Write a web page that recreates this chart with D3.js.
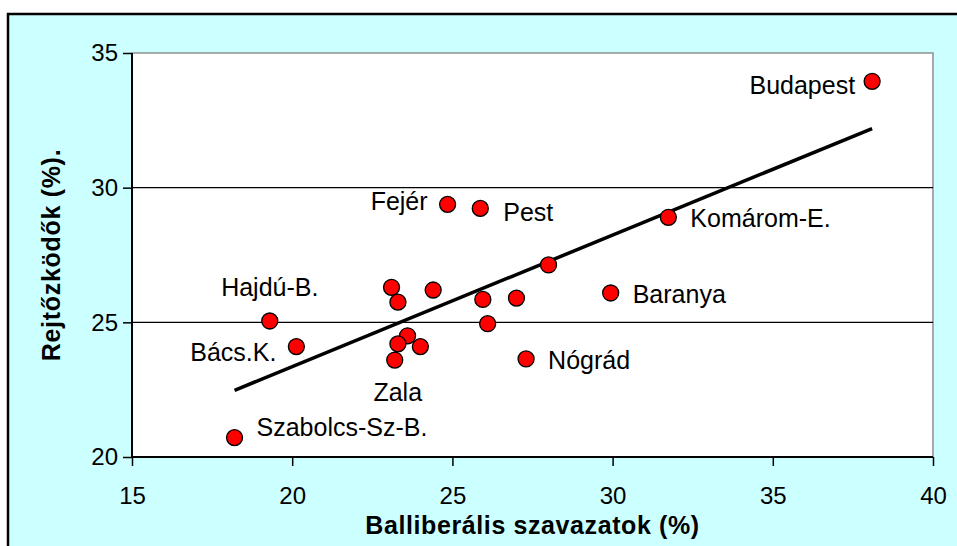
<!DOCTYPE html>
<html>
<head>
<meta charset="utf-8">
<script src="https://cdn.jsdelivr.net/npm/d3@7"></script>
<style>
  html, body { margin: 0; padding: 0; background: #fff; }
  svg { display: block; font-family: "Liberation Sans", Arial, sans-serif; }
</style>
</head>
<body>
<div class="app"></div>
<script>
// Data (megyék)
const names = ['Budapest', 'Fejér', 'Pest', 'Komárom-E.', '', 'Baranya', '', '', '', '', '',
  'Hajdú-B.', '', 'Bács.K.', '', '', '', 'Zala', 'Nógrád', 'Szabolcs-Sz-B.'];
const balliberalis = [38.1, 24.85, 25.87, 31.74, 28.0, 29.94, 23.1, 23.3, 24.4, 25.95, 27.0,
  19.3, 26.1, 20.13, 23.6, 23.3, 24.0, 23.2, 27.3, 18.2];
const rejtozkodok = [33.95, 29.38, 29.23, 28.9, 27.13, 26.09, 26.3, 25.75, 26.2, 25.85, 25.9,
  25.05, 24.95, 24.1, 24.5, 24.2, 24.1, 23.6, 23.64, 20.72];
const xTicks = [15, 20, 25, 30, 35, 40];
const yTicks = [20, 25, 30, 35];

// label placement relative to the marker (px)
const labelPos = {
  'Budapest': [-17, 13, 'end'],
  'Fejér': [-20, 6, 'end'],
  'Pest': [23, 13, 'start'],
  'Komárom-E.': [22, 10, 'start'],
  'Baranya': [22, 10, 'start'],
  'Hajdú-B.': [0, -25, 'middle'],
  'Bács.K.': [-20, 14, 'end'],
  'Zala': [3, 41, 'middle'],
  'Nógrád': [22, 10, 'start'],
  'Szabolcs-Sz-B.': [22, -2, 'start']
};

const width = 957, height = 546;
const margin = { left: 132, top: 53, right: 957 - 933, bottom: 546 - 457 };

const svg = d3.select('.app')
  .append('svg')
  .attr('width', width)
  .attr('height', height);

// outer frame
svg.append('rect')
  .attr('x', 8).attr('y', 14)
  .attr('width', 970).attr('height', 550)
  .attr('fill', '#ccffff')
  .attr('stroke', '#000')
  .attr('stroke-width', 2.5);

const x = d3.scaleLinear().domain([15, 40]).range([margin.left, width - margin.right]);
const y = d3.scaleLinear().domain([20, 35]).range([height - margin.bottom, margin.top]);

// plot area
svg.append('rect')
  .attr('x', x(15)).attr('y', y(35))
  .attr('width', x(40) - x(15)).attr('height', y(20) - y(35))
  .attr('fill', '#fff')
  .attr('stroke', '#808080')
  .attr('stroke-width', 1.3);

// gridlines
svg.append('g')
  .selectAll('line')
  .data(yTicks.filter(d => d > 20 && d < 35))
  .join('line')
  .attr('x1', x(15)).attr('x2', x(40))
  .attr('y1', d => y(d)).attr('y2', d => y(d))
  .attr('stroke', '#000')
  .attr('stroke-width', 1.3);

// axes
const xAxis = svg.append('g')
  .attr('transform', `translate(0,${y(20)})`)
  .call(d3.axisBottom(x).tickValues(xTicks).tickSize(9).tickPadding(21).tickFormat(d3.format('d')));
const yAxis = svg.append('g')
  .attr('transform', `translate(${x(15)},0)`)
  .call(d3.axisLeft(y).tickValues(yTicks).tickSize(9).tickPadding(5).tickFormat(d3.format('d')));

[xAxis, yAxis].forEach(g => {
  g.select('.domain').attr('stroke', '#000').attr('stroke-width', 2);
  g.selectAll('.tick line').attr('stroke', '#000').attr('stroke-width', 1.5);
  g.selectAll('.tick text')
    .attr('fill', '#000')
    .attr('font-size', 24)
    .attr('font-family', '"Liberation Sans", Arial, sans-serif');
});
yAxis.select('.domain').attr('d', `M0,${y(20)}V${y(35)}`);
xAxis.select('.domain').attr('d', `M${x(15)},0H${x(40)}`);

// trendline (least squares)
const pts = balliberalis.map((v, i) => ({ name: names[i], bx: v, ry: rejtozkodok[i] }));
const mx = d3.mean(balliberalis), my = d3.mean(rejtozkodok);
const slope = d3.sum(pts, p => (p.bx - mx) * (p.ry - my)) / d3.sum(pts, p => (p.bx - mx) ** 2);
const icpt = my - slope * mx;
const [x0, x1] = d3.extent(balliberalis);

svg.append('line')
  .attr('x1', x(x0)).attr('y1', y(icpt + slope * x0))
  .attr('x2', x(x1)).attr('y2', y(icpt + slope * x1))
  .attr('stroke', '#000')
  .attr('stroke-width', 3.5);

// points
svg.append('g')
  .selectAll('circle')
  .data(pts)
  .join('circle')
  .attr('cx', d => x(d.bx))
  .attr('cy', d => y(d.ry))
  .attr('r', 8)
  .attr('fill', '#ff0000')
  .attr('stroke', '#000')
  .attr('stroke-width', 1.3);

// labels
svg.append('g')
  .attr('font-size', 25)
  .selectAll('text')
  .data(pts.filter(d => d.name))
  .join('text')
  .attr('x', d => x(d.bx) + labelPos[d.name][0])
  .attr('y', d => y(d.ry) + labelPos[d.name][1])
  .attr('text-anchor', d => labelPos[d.name][2])
  .text(d => d.name);

// axis titles
svg.append('text')
  .attr('x', (x(15) + x(40)) / 2)
  .attr('y', 534)
  .attr('text-anchor', 'middle')
  .attr('font-size', 25)
  .attr('font-weight', 'bold')
  .attr('letter-spacing', 0.6)
  .text('Balliberális szavazatok (%)');

svg.append('text')
  .attr('transform', `translate(60,${(y(20) + y(35)) / 2}) rotate(-90)`)
  .attr('text-anchor', 'middle')
  .attr('font-size', 25)
  .attr('font-weight', 'bold')
  .attr('letter-spacing', 0.7)
  .text('Rejtőzködők (%).');
</script>
</body>
</html>
